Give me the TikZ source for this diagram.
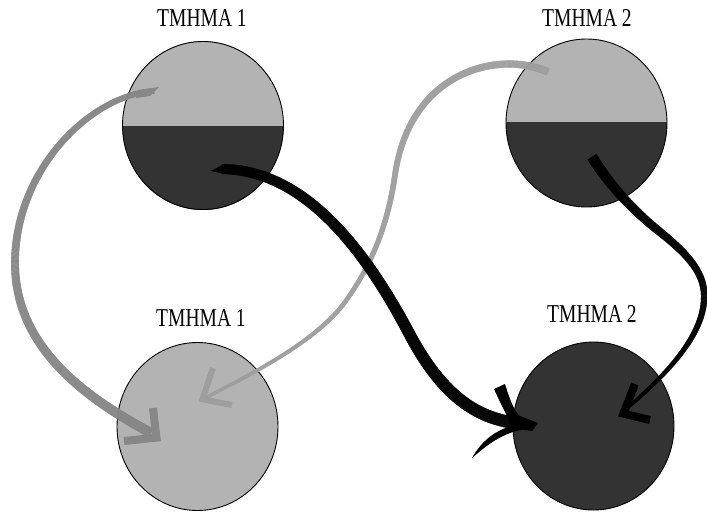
\documentclass[tikz,border=0pt]{standalone}
\usepackage{fontspec}
\setmainfont{Liberation Serif}
\usetikzlibrary{shapes.geometric,decorations.markings}
\definecolor{lite}{HTML}{B3B3B3}
\definecolor{dark}{HTML}{333333}
\definecolor{arrA}{HTML}{878787}
\definecolor{arrB}{HTML}{9E9E9E}
\begin{document}
\begin{tikzpicture}[x=1pt,y=-1pt,
  disc/.style={ellipse, draw=black, line width=0.9pt, minimum width=161pt, minimum height=168pt, inner sep=0pt},
  lbl/.style={inner sep=0pt, font=\fontsize{25.7}{28}\selectfont},
  barb/.style={line join=miter, miter limit=10, line cap=butt},
  taper/.style n args={3}{decoration={markings,
      mark=between positions 0 and 1 step 0.35pt with {%
        \pgfmathsetmacro\tw{#2+(#3-#2)*\pgfkeysvalueof{/pgf/decoration/mark info/distance from start}/\pgfdecoratedpathlength}%
        \fill[#1] (-0.3pt,{-\tw pt/2}) rectangle (0.3pt,{\tw pt/2});}},
    postaction={decorate}}]
\useasboundingbox (0,0) rectangle (707,512);

% ---- discs ----
\fill[lite] (203,125.5) ellipse [x radius=80.5pt, y radius=84.5pt];
\begin{scope}
  \clip (203,125.5) ellipse [x radius=80.5pt, y radius=84.5pt];
  \fill[dark] (100,126) rectangle (300,220);
\end{scope}
\node[disc] (c1) at (203,125.5) {};

\fill[lite] (586.5,123) ellipse [x radius=80.5pt, y radius=84pt];
\begin{scope}
  \clip (586.5,123) ellipse [x radius=80.5pt, y radius=84pt];
  \fill[dark] (480,122) rectangle (690,220);
\end{scope}
\node[disc] (c2) at (586.5,123) {};

\node[disc, fill=lite] (c3) at (197.5,426.5) {};
\node[disc, fill=dark] (c4) at (593.5,426) {};

% ---- labels ----
\node[lbl] (t1) at (202,18) {\scalebox{0.76}[1]{TMHMA 1}};
\node[lbl] (t2) at (587,18) {\scalebox{0.76}[1]{TMHMA 2}};
\node[lbl] (t3) at (201,318.5) {\scalebox{0.76}[1]{TMHMA 1}};
\node[lbl] (t4) at (592,313.5) {\scalebox{0.76}[1]{TMHMA 2}};

% ---- arrow A : c1 -> c3 ----
\coordinate (a0) at (154,91);
\coordinate (a1) at (15,263);
\coordinate (a2) at (151,433);
\path[taper={arrA}{5.5}{10}] (a0) .. controls (90,95) and (15,170) .. (a1)
  .. controls (15,350) and (90,400) .. (a2);
\fill[arrA] (138,90) -- (159,87) -- (150,96) -- (136,98) -- cycle;
\draw[arrA, barb, line width=8pt] (153,408) -- (156.4,437.6) -- (124,441);

% ---- arrow B : c2 -> c3 ----
\coordinate (b0) at (548,72);
\coordinate (b1) at (395,175);
\coordinate (b2) at (345,302);
\coordinate (b3) at (207,397);
\path[taper={arrB}{7.5}{3}] (b0) .. controls (500,50) and (410,70) .. (b1)
  .. controls (388,224) and (372,265) .. (b2)
  .. controls (318,339) and (260,370) .. (b3);
\draw[arrB, barb, line width=6pt] (213,368) -- (202.5,399.3) -- (232,405);

% ---- arrow C : c1 -> c4 ----
\coordinate (k0) at (222,169);
\coordinate (k1) at (410,335);
\coordinate (k2) at (522,424);
\path[taper={black}{10}{12.5}] (k0) .. controls (300,170) and (360,240) .. (k1)
  .. controls (450,410) and (490,420) .. (k2);
\fill[black] (211,171) -- (224,164) -- (224,174) -- cycle;
\fill[black] (494,389) -- (505,384) .. controls (510,400) and (514,411) .. (520,416)
  -- (538,423) -- (532,431) -- (512,428) -- (508,418) .. controls (502,406) and (498,398) .. cycle;
\fill[black] (522,424) .. controls (498,427) and (482,440) .. (472,458)
  .. controls (486,446) and (500,434) .. (524,429) -- cycle;

% ---- arrow D : c2 -> c4 ----
\coordinate (d0) at (592,157);
\coordinate (d1) at (660,232);
\coordinate (d2) at (704,300);
\coordinate (d3) at (625,410);
\path[taper={black}{10.5}{3}] (d0) .. controls (610,185) and (630,208) .. (d1)
  .. controls (690,256) and (706,275) .. (d2)
  .. controls (702,340) and (660,380) .. (d3);
\draw[black, barb, line width=8pt] (635,384) -- (623.4,413.6) -- (650,420);
\end{tikzpicture}
\end{document}
